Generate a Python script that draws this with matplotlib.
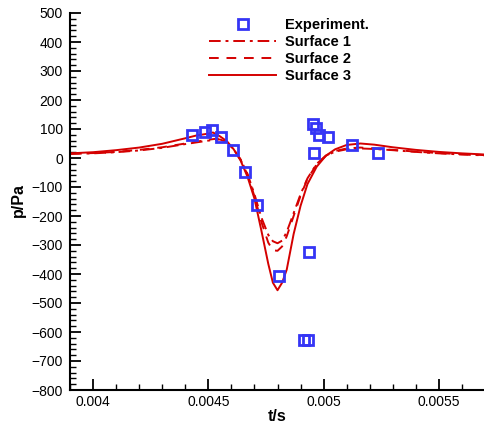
import matplotlib
matplotlib.use("Agg")
import matplotlib.pyplot as plt
from matplotlib.ticker import MultipleLocator, FuncFormatter

plt.rcParams['font.family'] = ['Liberation Sans', 'DejaVu Sans']

# Experiment
exp_t = [0.004431, 0.004485, 0.004516, 0.004554, 0.004606, 0.004661, 0.004711,
         0.004808, 0.004915, 0.004931, 0.004937, 0.004952, 0.004969, 0.004980,
         0.005017, 0.004957, 0.005125, 0.005236]
exp_p = [78, 88, 97, 74, 27, -47, -163, -408, -626, -626, -325, 117, 103, 78,
         74, 18, 46, 18]

# Surface 3 (solid)
s3_t = [0.00390, 0.00400, 0.00410, 0.00420, 0.00430, 0.00440, 0.00445, 0.00450,
        0.00452, 0.00455, 0.00458, 0.00461, 0.00464, 0.00467, 0.00470, 0.00473,
        0.00476, 0.00478, 0.00480, 0.00482, 0.00484, 0.00487, 0.00490, 0.00493,
        0.00497, 0.00501, 0.00505, 0.00510, 0.00516, 0.00522, 0.00530, 0.00540,
        0.00550, 0.00560, 0.00570]
s3_p = [16, 20, 27, 36, 49, 68, 78, 84, 88, 75, 58, 30, -9, -65, -140, -250,
        -365, -430, -456, -430, -385, -262, -165, -90, -30, 8, 30, 45, 50, 46,
        37, 28, 21, 16, 12]

# Surface 1 (dash-dot)
s1_t = [0.00390, 0.00400, 0.00410, 0.00420, 0.00430, 0.00440, 0.00450, 0.00455,
        0.00458, 0.00461, 0.00464, 0.00467, 0.00470, 0.00473, 0.00476, 0.00478,
        0.00480, 0.00482, 0.00484, 0.00487, 0.00490, 0.00493, 0.00497, 0.00501,
        0.00505, 0.00510, 0.00516, 0.00522, 0.00530, 0.00540, 0.00550, 0.00560,
        0.00570]
s1_p = [14, 16, 20, 26, 35, 48, 60, 64, 55, 30, -5, -55, -125, -205, -265, -287,
        -294, -285, -255, -190, -125, -70, -20, 8, 22, 30, 33, 31, 27, 21, 16,
        12, 9]

# Surface 2 (dashed)
s2_t = [0.00390, 0.00400, 0.00410, 0.00420, 0.00430, 0.00440, 0.00450, 0.00455,
        0.00458, 0.00461, 0.00464, 0.00467, 0.00470, 0.00473, 0.00476, 0.00478,
        0.00480, 0.00482, 0.00484, 0.00487, 0.00490, 0.00493, 0.00497, 0.00501,
        0.00505, 0.00510, 0.00516, 0.00522, 0.00530, 0.00540, 0.00550, 0.00560,
        0.00570]
s2_p = [15, 17, 21, 28, 37, 50, 63, 68, 57, 30, -6, -58, -132, -220, -292, -318,
        -320, -305, -270, -200, -130, -72, -22, 8, 24, 33, 36, 33, 28, 22, 17,
        13, 10]

red = '#d40000'
blue = '#3535f5'

fig = plt.figure(figsize=(4.85, 4.25), dpi=100)
ax = fig.add_axes([70/485, 1 - 390/425, 1 - 70/485, 377/425])

ax.plot(exp_t, exp_p, linestyle='none', marker='s', markersize=7,
        markerfacecolor='none', markeredgecolor=blue, markeredgewidth=2,
        label='Experiment.', zorder=5)
ax.plot(s1_t, s1_p, color=red, linewidth=1.4, linestyle=(0, (6, 2.5, 1.5, 2.5)),
        label='Surface 1')
ax.plot(s2_t, s2_p, color=red, linewidth=1.4, linestyle=(0, (5, 4)),
        label='Surface 2')
ax.plot(s3_t, s3_p, color=red, linewidth=1.4, linestyle='-', label='Surface 3')

ax.set_xlim(0.0039, 0.0057)
ax.set_ylim(-800, 500)
ax.xaxis.set_major_locator(MultipleLocator(0.0005))
ax.xaxis.set_minor_locator(MultipleLocator(0.0001))
ax.yaxis.set_major_locator(MultipleLocator(100))
ax.yaxis.set_minor_locator(MultipleLocator(20))
ax.xaxis.set_major_formatter(FuncFormatter(lambda v, p: ('%g' % round(v, 6))))
ax.spines['top'].set_visible(False)
ax.spines['right'].set_visible(False)
ax.spines['left'].set_linewidth(1.5)
ax.spines['bottom'].set_linewidth(1.5)
ax.tick_params(which='major', direction='in', length=8, width=1.3, labelsize=10)
ax.tick_params(axis='x', which='major', pad=3.5)
ax.tick_params(axis='y', which='major', pad=5)
ax.tick_params(which='minor', direction='in', length=4, width=1.0)
ax.set_xlabel('t/s', fontsize=11.5, fontweight='bold')
ax.xaxis.set_label_coords(0.5, -19 / 377)
ax.set_ylabel('p/Pa', fontsize=11.5, fontweight='bold')
ax.yaxis.set_label_coords(-44 / 415, (390 - 200) / 377)

leg = ax.legend(loc='upper left', bbox_to_anchor=(202/485, 1 - 11/425),
                bbox_transform=fig.transFigure, frameon=False,
                handlelength=4.6, handletextpad=0.6, labelspacing=0.2,
                borderpad=0, prop={'weight': 'bold', 'size': 10.5})

fig.savefig('out.png', dpi=100)
